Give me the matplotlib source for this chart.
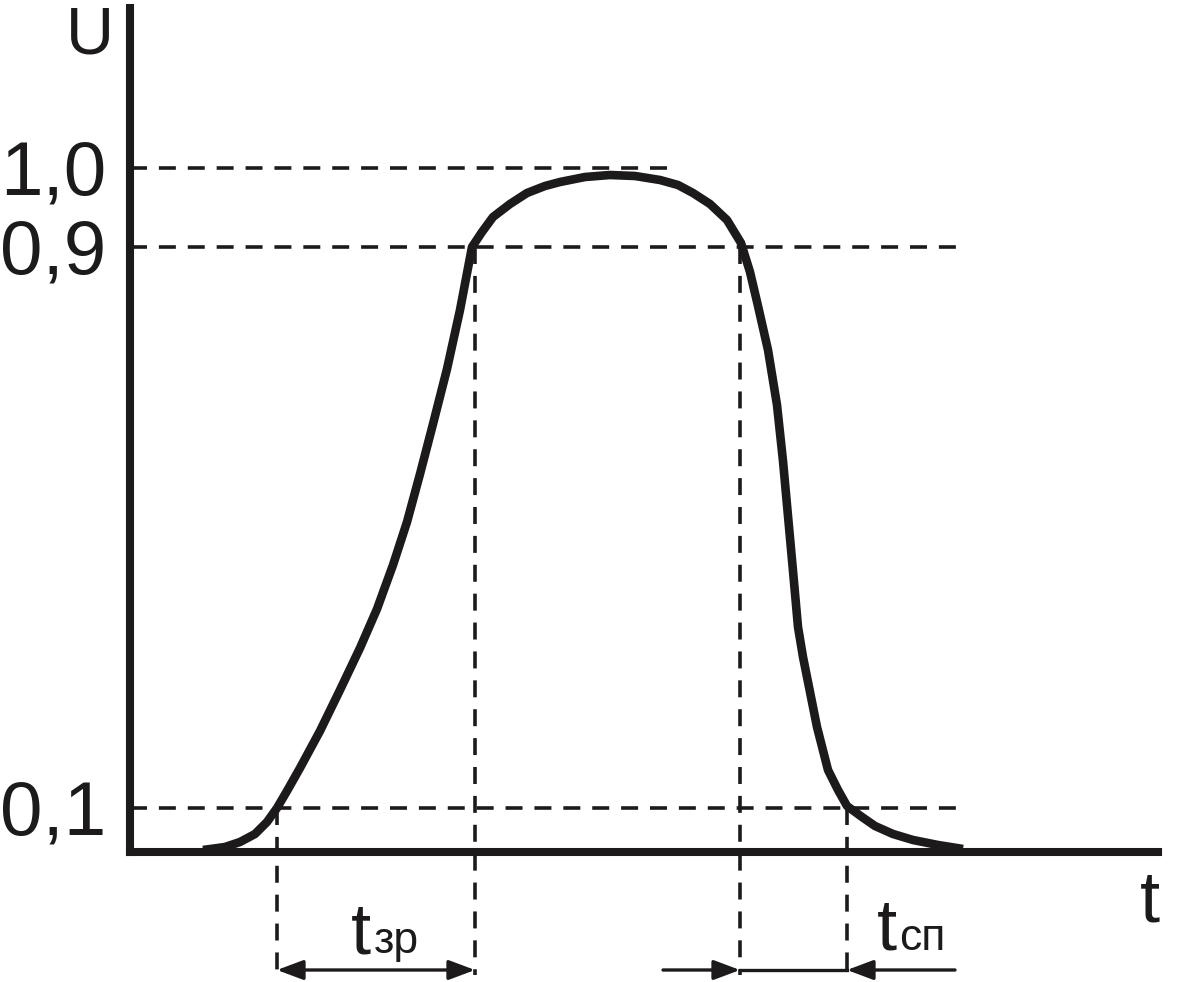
import matplotlib
matplotlib.use('Agg')
import matplotlib.pyplot as plt

plt.rcParams['font.family'] = ['Liberation Sans', 'DejaVu Sans']

# pulse shape, x in px-like units, y = height above the t axis
curve_x = [203, 225, 240, 255, 267, 277, 287, 300, 320, 340, 360, 377, 393, 407, 420,
           433, 447, 460, 472, 482, 493, 510, 527, 545, 560, 585, 610, 635, 660, 678,
           693, 710, 727, 741, 750, 758, 768, 777, 783, 788, 793, 798, 803, 809, 817,
           828, 838, 847, 862, 875, 893, 913, 938, 963]
curve_y = [2, 5, 10, 18, 30, 44, 61, 84, 121, 162, 204, 243, 287, 330, 378,
           428, 483, 542, 605, 620, 635, 648, 659, 666, 670, 675, 677, 676, 672, 667,
           659, 648, 632, 609, 580, 546, 502, 447, 391, 336, 281, 225, 195, 165, 125,
           82, 62, 46, 35, 26, 18, 12, 7, 3]

# reference levels
level_y = [44, 605, 684]
level_labels = ['0,1', '0,9', '1,0']
level_xend = [963, 960, 670]

# crossing times (0.1 rise, 0.9 rise, 0.9 fall, 0.1 fall)
t_rise = [277, 475]
t_fall = [740, 847]
t_levels = [44, 605, 605, 44]

col = '#1c1a1b'
xmin, xmax = 130, 1158
ymin, ymax = 0, 844
y_low = -123    # bottom of the vertical dashed lines
y_arrow = -118  # arrows row

fig = plt.figure(figsize=(11.8, 9.82), dpi=100)
ax = fig.add_axes([130/1180, 1-852/982, (1158-130)/1180, (852-8)/982])
ax.set_xlim(xmin, xmax)
ax.set_ylim(ymin, ymax)

for s in ['top', 'right']:
    ax.spines[s].set_visible(False)
for s in ['left', 'bottom']:
    ax.spines[s].set_linewidth(5.8)
    ax.spines[s].set_color(col)
    ax.spines[s].set_capstyle('projecting')

ax.set_xticks([])
ax.set_yticks(level_y)
ax.set_yticklabels(level_labels)
ax.tick_params(axis='y', length=0, pad=17, labelsize=55, labelcolor=col)

dash = (0, (4.7, 3.3))
for yl, xe in zip(level_y, level_xend):
    ax.plot([xmin, xe], [yl, yl], color=col, lw=2.6, linestyle=dash)

for xv, yv in zip(t_rise + t_fall, t_levels):
    ax.plot([xv, xv], [yv, y_low], color=col, lw=2.6, linestyle=dash, clip_on=False)

ax.plot(curve_x, curve_y, color=col, lw=6.2, solid_joinstyle='round',
        solid_capstyle='butt', clip_on=False)

aprops = dict(color=col, lw=2.4, shrinkA=0, shrinkB=0, mutation_scale=20)
ax.annotate('', xy=(t_rise[1], y_arrow), xytext=(t_rise[0], y_arrow),
            arrowprops=dict(arrowstyle='<|-|>,head_length=0.8,head_width=0.3', **aprops),
            annotation_clip=False)
ax.annotate('', xy=(t_fall[0], y_arrow), xytext=(663, y_arrow),
            arrowprops=dict(arrowstyle='-|>,head_length=0.8,head_width=0.3', **aprops),
            annotation_clip=False)
ax.annotate('', xy=(t_fall[1], y_arrow), xytext=(955, y_arrow),
            arrowprops=dict(arrowstyle='-|>,head_length=0.8,head_width=0.3', **aprops),
            annotation_clip=False)
ax.plot(t_fall, [y_arrow, y_arrow], color=col, lw=2.4, clip_on=False)

# labels
ax.text(351, 852-953, 't', fontsize=52, color=col, ha='left', va='baseline', clip_on=False)
ax.text(374, 852-953, 'зр', fontsize=32, color=col, ha='left', va='baseline', clip_on=False)
ax.text(877, 852-950, 't', fontsize=52, color=col, ha='left', va='baseline', clip_on=False)
ax.text(899, 852-950, 'сп', fontsize=32, color=col, ha='left', va='baseline', clip_on=False)
ax.text(1140, 852-922, 't', fontsize=52, color=col, ha='left', va='baseline', clip_on=False)
ax.text(90, 852-53, 'U', fontsize=48, color=col, ha='center', va='baseline', clip_on=False)

fig.savefig('out.png', dpi=100)
